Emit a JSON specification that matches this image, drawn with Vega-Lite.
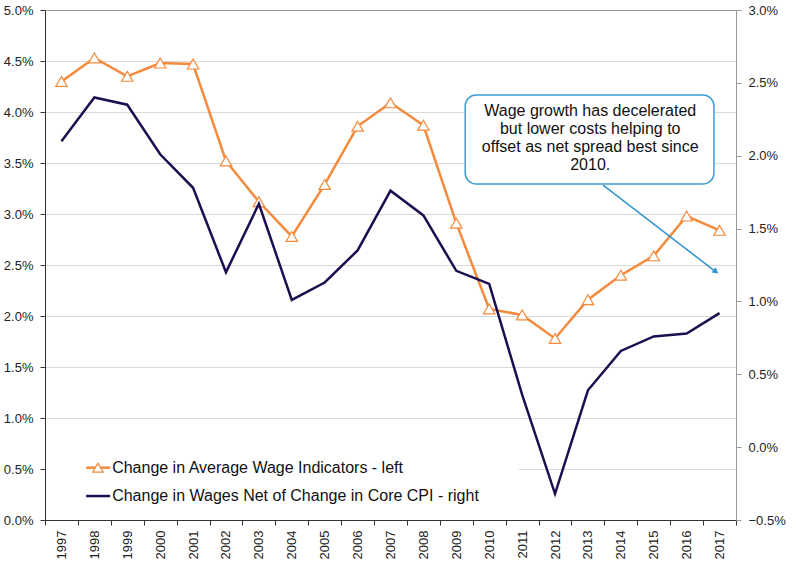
{
  "$schema": "https://vega.github.io/schema/vega-lite/v6.json",
  "width": 691,
  "height": 510,
  "autosize": {"type": "none"},
  "padding": {"left": 45, "top": 10, "right": 64, "bottom": 53},
  "config": {
    "view": {"stroke": null},
    "font": "Liberation Sans",
    "axis": {"labelFont": "Liberation Sans", "labelFontSize": 13, "labelColor": "#222"}
  },
  "data": {
    "values": [
      {"year": "1997", "wage": 4.30, "net": 2.10},
      {"year": "1998", "wage": 4.53, "net": 2.40},
      {"year": "1999", "wage": 4.35, "net": 2.35},
      {"year": "2000", "wage": 4.48, "net": 2.01},
      {"year": "2001", "wage": 4.47, "net": 1.78},
      {"year": "2002", "wage": 3.52, "net": 1.20},
      {"year": "2003", "wage": 3.12, "net": 1.67},
      {"year": "2004", "wage": 2.78, "net": 1.01},
      {"year": "2005", "wage": 3.29, "net": 1.13},
      {"year": "2006", "wage": 3.86, "net": 1.35},
      {"year": "2007", "wage": 4.09, "net": 1.76},
      {"year": "2008", "wage": 3.87, "net": 1.59},
      {"year": "2009", "wage": 2.91, "net": 1.21},
      {"year": "2010", "wage": 2.07, "net": 1.12},
      {"year": "2011", "wage": 2.01, "net": 0.36},
      {"year": "2012", "wage": 1.78, "net": -0.32},
      {"year": "2013", "wage": 2.16, "net": 0.39},
      {"year": "2014", "wage": 2.40, "net": 0.66},
      {"year": "2015", "wage": 2.59, "net": 0.76},
      {"year": "2016", "wage": 2.98, "net": 0.78},
      {"year": "2017", "wage": 2.84, "net": 0.92}
    ]
  },
  "layer": [
    {
      "data": {"values": [{}]},
      "mark": {"type": "rect", "fill": "white", "stroke": null},
      "encoding": {
        "x": {"datum": 1996.56, "type": "quantitative", "scale": {"domain": [1996.5, 2017.5], "nice": false, "zero": false},
              "axis": {"orient": "top", "labels": false, "ticks": false, "grid": false, "title": null, "domainColor": "#999", "domainWidth": 1}},
        "x2": {"datum": 2010.9},
        "y": {"datum": 0.03, "type": "quantitative", "scale": {"domain": [0, 5], "nice": false, "zero": false}, "axis": null},
        "y2": {"datum": 0.78}
      }
    },
    {
      "mark": {"type": "line", "color": "#F58A3C", "strokeWidth": 2.5,
               "point": {"shape": "triangle-up", "filled": true, "fill": "white", "stroke": "#F58A3C", "strokeWidth": 1.2, "size": 130, "opacity": 1}},
      "encoding": {
        "x": {"field": "year", "type": "ordinal", "bandPosition": 0.5,
              "scale": {"type": "band", "paddingInner": 0, "paddingOuter": 0},
              "axis": {"title": null, "tickBand": "extent", "labelAngle": -90, "labelAlign": "right", "labelBaseline": "middle",
                       "tickSize": 5, "labelPadding": 5, "domainColor": "#333", "tickColor": "#333", "grid": false}},
        "y": {"field": "wage", "type": "quantitative",
              "scale": {"domain": [0, 5], "nice": false, "zero": false},
              "axis": {"title": null, "orient": "left", "values": [0, 0.5, 1, 1.5, 2, 2.5, 3, 3.5, 4, 4.5, 5],
                       "labelExpr": "format(datum.value, '.1f') + '%'", "grid": true, "gridColor": "#d9d9d9",
                       "domainColor": "#333", "tickColor": "#333", "tickSize": 5, "labelPadding": 7}}
      }
    },
    {
      "mark": {"type": "line", "color": "#1E0E50", "strokeWidth": 2.5},
      "encoding": {
        "x": {"field": "year", "type": "ordinal", "bandPosition": 0.5,
              "scale": {"type": "band", "paddingInner": 0, "paddingOuter": 0}, "axis": null},
        "y": {"field": "net", "type": "quantitative",
              "scale": {"domain": [-0.5, 3], "nice": false, "zero": false},
              "axis": {"title": null, "orient": "right", "values": [-0.5, 0, 0.5, 1, 1.5, 2, 2.5, 3],
                       "labelExpr": "format(datum.value, '.1f') + '%'", "grid": false,
                       "domainColor": "#999", "tickColor": "#999", "tickSize": 5, "labelPadding": 7}}
      }
    },
    {
      "data": {"values": [{}]},
      "mark": {"type": "rule", "color": "#F58A3C", "strokeWidth": 2.5},
      "encoding": {
        "x": {"datum": 1997.75, "type": "quantitative", "scale": {"domain": [1996.5, 2017.5], "nice": false, "zero": false}, "axis": null},
        "x2": {"datum": 1998.48},
        "y": {"datum": 0.513, "type": "quantitative", "scale": {"domain": [0, 5], "nice": false, "zero": false}, "axis": null}
      }
    },
    {
      "data": {"values": [{}]},
      "mark": {"type": "point", "shape": "triangle-up", "filled": true, "fill": "white", "stroke": "#F58A3C", "strokeWidth": 1.2, "size": 110, "opacity": 1},
      "encoding": {
        "x": {"datum": 1998.11, "type": "quantitative", "scale": {"domain": [1996.5, 2017.5], "nice": false, "zero": false}, "axis": null},
        "y": {"datum": 0.513, "type": "quantitative", "scale": {"domain": [0, 5], "nice": false, "zero": false}, "axis": null}
      }
    },
    {
      "data": {"values": [{}]},
      "mark": {"type": "rule", "color": "#1E0E50", "strokeWidth": 2.5},
      "encoding": {
        "x": {"datum": 1997.75, "type": "quantitative", "scale": {"domain": [1996.5, 2017.5], "nice": false, "zero": false}, "axis": null},
        "x2": {"datum": 1998.48},
        "y": {"datum": 0.235, "type": "quantitative", "scale": {"domain": [0, 5], "nice": false, "zero": false}, "axis": null}
      }
    },
    {
      "data": {"values": [{"label": "Change in Average Wage Indicators - left", "pos": 0.513}, {"label": "Change in Wages Net of Change in Core CPI - right", "pos": 0.235}]},
      "mark": {"type": "text", "align": "left", "baseline": "middle", "fontSize": 16, "color": "#111", "font": "Liberation Sans"},
      "encoding": {
        "x": {"datum": 1998.54, "type": "quantitative", "scale": {"domain": [1996.5, 2017.5], "nice": false, "zero": false}, "axis": null},
        "y": {"field": "pos", "type": "quantitative", "scale": {"domain": [0, 5], "nice": false, "zero": false}, "axis": null},
        "text": {"field": "label"}
      }
    },
    {
      "data": {"values": [{}]},
      "mark": {"type": "rule", "color": "#2E94CE", "strokeWidth": 1.5},
      "encoding": {
        "x": {"datum": 2013.46, "type": "quantitative", "scale": {"domain": [1996.5, 2017.5], "nice": false, "zero": false}, "axis": null},
        "x2": {"datum": 2016.86},
        "y": {"datum": 3.284, "type": "quantitative", "scale": {"domain": [0, 5], "nice": false, "zero": false}, "axis": null},
        "y2": {"datum": 2.44}
      }
    },
    {
      "data": {"values": [{}]},
      "mark": {"type": "point", "shape": "triangle-up", "filled": true, "color": "#2E94CE", "size": 45, "angle": 127, "opacity": 1},
      "encoding": {
        "x": {"datum": 2016.89, "type": "quantitative", "scale": {"domain": [1996.5, 2017.5], "nice": false, "zero": false}, "axis": null},
        "y": {"datum": 2.435, "type": "quantitative", "scale": {"domain": [0, 5], "nice": false, "zero": false}, "axis": null}
      }
    },
    {
      "data": {"values": [{}]},
      "mark": {"type": "rect", "fill": "white", "stroke": "#3D9DD2", "strokeWidth": 1.5, "cornerRadius": 11},
      "encoding": {
        "x": {"datum": 2009.27, "type": "quantitative", "scale": {"domain": [1996.5, 2017.5], "nice": false, "zero": false}, "axis": null},
        "x2": {"datum": 2016.83},
        "y": {"datum": 4.167, "type": "quantitative", "scale": {"domain": [0, 5], "nice": false, "zero": false}, "axis": null},
        "y2": {"datum": 3.294}
      }
    },
    {
      "data": {"values": [{}]},
      "mark": {"type": "text", "align": "center", "baseline": "top", "fontSize": 16, "lineHeight": 18, "color": "#111", "font": "Liberation Sans",
               "text": ["Wage growth has decelerated", "but lower costs helping to", "offset as net spread best since", "2010."]},
      "encoding": {
        "x": {"datum": 2013.07, "type": "quantitative", "scale": {"domain": [1996.5, 2017.5], "nice": false, "zero": false}, "axis": null},
        "y": {"datum": 4.085, "type": "quantitative", "scale": {"domain": [0, 5], "nice": false, "zero": false}, "axis": null}
      }
    }
  ],
  "resolve": {"scale": {"x": "independent", "y": "independent"}}
}
